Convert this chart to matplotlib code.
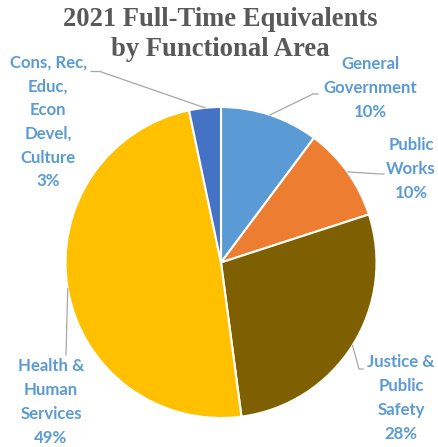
import numpy as np
import matplotlib.pyplot as plt

# Données du graphique
categories = ["General\nGovernment", "Public\nWorks", "Justice &\nPublic\nSafety",
              "Health &\nHuman\nServices", "Cons, Rec,\nEduc,\nEcon\nDevel,\nCulture"]
parts = [10.2, 9.8, 27.9, 48.8, 3.3]
couleurs = ["#5B9BD5", "#ED7D31", "#7F6000", "#FFC000", "#4472C4"]

# Position des étiquettes (pixels, depuis le haut) et points de coude des traits
pos_labels = [(370, 88), (411, 169), (401, 398), (51, 402), (48, 122)]
coudes = [[(313, 94), (318, 94)],
          [(380, 174), (384, 174)],
          [(359, 369), (363, 369)],
          [(66, 355)],
          [(100, 71.5), (91, 71.5)]]

W, H = 438, 447
cx, cy, r = 221, 262.5, 155.5

fig = plt.figure(figsize=(W / 100, H / 100), dpi=100)
ax = fig.add_axes([0, 0, 1, 1])

wedges, _ = ax.pie(parts, colors=couleurs, startangle=90, counterclock=False,
                   center=(cx, H - cy), radius=r,
                   wedgeprops=dict(edgecolor="white", linewidth=1.5))
# pie() impose ses propres limites, on les remet après
ax.set_xlim(0, W)
ax.set_ylim(0, H)
ax.set_aspect("equal")
ax.axis("off")

# Titre
fig.text(0.502, 1 - 19 / H, "2021 Full-Time Equivalents", ha="center", va="center",
         family="Liberation Serif", fontweight="bold", fontsize=19.2, color="#595959")
fig.text(0.502, 1 - 50 / H, "by Functional Area", ha="center", va="center",
         family="Liberation Serif", fontweight="bold", fontsize=19.2, color="#595959")

# Étiquettes et traits de rappel
total = sum(parts)
cumul = 0
for nom, val, (lx, ly), pts in zip(categories, parts, pos_labels, coudes):
    milieu = np.radians((cumul + val / 2) / total * 360)
    cumul += val
    x0 = cx + r * np.sin(milieu)
    y0 = cy - r * np.cos(milieu)
    xs = [x0] + [p[0] for p in pts]
    ys = [H - y0] + [H - p[1] for p in pts]
    ax.plot(xs, ys, color="#A6A6A6", linewidth=0.9)
    texte = f"{nom}\n{round(val)}%"
    ax.text(lx, H - ly, texte, ha="center", va="center", family="Lato",
            fontweight="bold", fontsize=12.1, color="#5B9BD5", linespacing=1.6)

fig.savefig("out.png", dpi=100)
